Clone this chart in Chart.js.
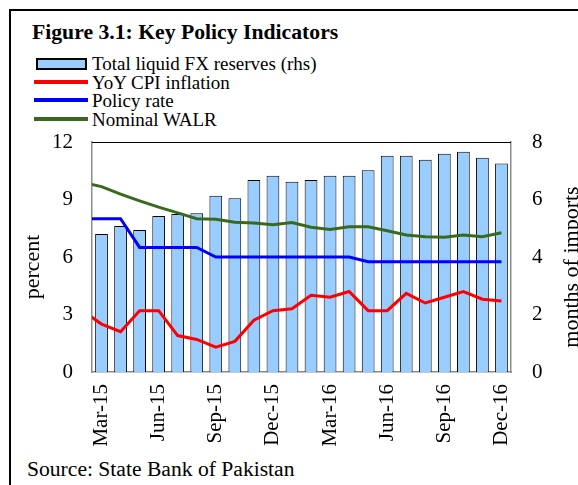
<!DOCTYPE html>
<html>
<head>
<meta charset="utf-8">
<script src="https://cdn.jsdelivr.net/npm/chart.js@4.4.0/dist/chart.umd.min.js"></script>
<style>
html,body{margin:0;padding:0;background:#fff;overflow:hidden;}
body{width:578px;height:485px;position:relative;font-family:"Liberation Serif","Times New Roman",serif;color:#000;}
#frame{position:absolute;left:9px;top:9px;width:640px;height:540px;border:2px solid #000;box-sizing:border-box;}
#title{position:absolute;left:32px;top:20px;font-weight:bold;font-size:21.7px;line-height:24px;white-space:nowrap;}
#legend{position:absolute;left:34px;top:55px;}
.li{position:relative;height:18.7px;font-size:19px;line-height:18.7px;white-space:nowrap;padding-left:58px;}
.sw{position:absolute;box-sizing:border-box;}
#source{position:absolute;left:27px;top:457px;font-size:21.6px;line-height:24px;white-space:nowrap;}
canvas{position:absolute;left:0;top:0;}
</style>
</head>
<body>
<div id="frame"></div>
<div id="title">Figure 3.1: Key Policy Indicators</div>
<div id="legend"></div>
<div id="source">Source: State Bank of Pakistan</div>
<canvas id="c" width="578" height="485"></canvas>
<script>
// Monthly categories (Feb-15 only carries the lines in from the left edge; the axis starts at Mar-15)
const months = ['Feb-15','Mar-15','Apr-15','May-15','Jun-15','Jul-15','Aug-15','Sep-15','Oct-15','Nov-15','Dec-15',
  'Jan-16','Feb-16','Mar-16','Apr-16','May-16','Jun-16','Jul-16','Aug-16','Sep-16','Oct-16','Nov-16','Dec-16'];
const firstShownMonth = 'Mar-15';
const shownTickMonths = ['Mar','Jun','Sep','Dec'];

// Total liquid FX reserves, months of imports (rhs)
const fxReserves = [null, 4.80, 5.08, 4.94, 5.43, 5.50, 5.52, 6.13, 6.04, 6.68, 6.83, 6.62, 6.68, 6.83, 6.83, 7.02, 7.52, 7.52, 7.38, 7.59, 7.66, 7.45, 7.25];
// YoY CPI inflation, percent
const cpiInflation = [3.2, 2.5, 2.1, 3.2, 3.2, 1.9, 1.7, 1.3, 1.6, 2.7, 3.2, 3.3, 4.0, 3.9, 4.2, 3.2, 3.2, 4.1, 3.6, 3.9, 4.2, 3.8, 3.7];
// Policy rate, percent
const policyRate = [8.0, 8.0, 8.0, 6.5, 6.5, 6.5, 6.5, 6.0, 6.0, 6.0, 6.0, 6.0, 6.0, 6.0, 6.0, 5.75, 5.75, 5.75, 5.75, 5.75, 5.75, 5.75, 5.75];
// Nominal WALR, percent
const nominalWalr = [9.9, 9.67, 9.28, 8.93, 8.6, 8.3, 8.0, 7.97, 7.81, 7.77, 7.68, 7.8, 7.55, 7.44, 7.58, 7.58, 7.37, 7.15, 7.06, 7.03, 7.15, 7.06, 7.27];

const leftTicks = {min: 0, max: 12, step: 3};
const rightTicks = {min: 0, max: 8, step: 2};
const leftAxisTitle = 'percent';
const rightAxisTitle = 'months of imports';

const FONT = 'Liberation Serif';
const tickFont = {family: FONT, size: 21};

const extrasPlugin = {
  id: 'extras',
  afterDraw(chart) {
    const {ctx, chartArea} = chart;
    ctx.save();
    // top border of plot area
    ctx.strokeStyle = '#000';
    ctx.lineWidth = 1.2;
    ctx.beginPath();
    ctx.moveTo(chartArea.left, chartArea.top + 0.5);
    ctx.lineTo(chartArea.right, chartArea.top + 0.5);
    ctx.stroke();
    // axis titles, both reading bottom-to-top
    ctx.fillStyle = '#000';
    ctx.font = '22px "' + FONT + '"';
    ctx.textAlign = 'center';
    ctx.textBaseline = 'middle';
    const yc = (chartArea.top + chartArea.bottom) / 2 + 10;
    ctx.save();
    ctx.translate(chartArea.left - 59, yc);
    ctx.rotate(-Math.PI / 2);
    ctx.fillText(leftAxisTitle, 0, 0);
    ctx.restore();
    ctx.save();
    ctx.translate(chartArea.right + 61, yc);
    ctx.rotate(-Math.PI / 2);
    ctx.fillText(rightAxisTitle, 0, 0);
    ctx.restore();
    ctx.restore();
  }
};

const axisBorder = {display: true, color: '#8c8c8c', width: 1.5};

const chart = new Chart(document.getElementById('c'), {
  type: 'bar',
  data: {
    labels: months,
    datasets: [
      {type: 'line', label: 'YoY CPI inflation', data: cpiInflation, borderColor: '#FF0000', backgroundColor: '#FF0000',
        borderWidth: 3, pointRadius: 0, tension: 0, yAxisID: 'y', order: 1},
      {type: 'line', label: 'Policy rate', data: policyRate, borderColor: '#0000FF', backgroundColor: '#0000FF',
        borderWidth: 3, pointRadius: 0, tension: 0, yAxisID: 'y', order: 1},
      {type: 'line', label: 'Nominal WALR', data: nominalWalr, borderColor: '#386A1E', backgroundColor: '#386A1E',
        borderWidth: 3, pointRadius: 0, tension: 0, yAxisID: 'y', order: 1},
      {type: 'bar', label: 'Total liquid FX reserves (rhs)', data: fxReserves, backgroundColor: '#99CCFF', borderColor: '#000000',
        borderWidth: 1, yAxisID: 'y1', order: 2, barPercentage: 0.67, categoryPercentage: 1}
    ]
  },
  options: {
    responsive: false,
    animation: false,
    devicePixelRatio: 1,
    layout: {padding: {left: 10, right: 0, top: 142, bottom: 0}},
    plugins: {legend: {display: false}, tooltip: {enabled: false}},
    scales: {
      x: {
        type: 'category', offset: true, min: firstShownMonth,
        grid: {display: false, drawTicks: false},
        border: axisBorder,
        ticks: {
          autoSkip: false, minRotation: 90, maxRotation: 90, padding: 12, color: '#000', font: tickFont,
          callback: function(value) {
            const l = this.getLabelForValue(value);
            return shownTickMonths.includes(l.slice(0, 3)) ? l : '';
          }
        },
        afterFit: s => { s.height = 113; }
      },
      y: {
        position: 'left', min: leftTicks.min, max: leftTicks.max,
        grid: {display: false, drawTicks: false},
        border: axisBorder,
        ticks: {stepSize: leftTicks.step, padding: 19, color: '#000', font: tickFont},
        afterFit: s => { s.width = 82; }
      },
      y1: {
        position: 'right', min: rightTicks.min, max: rightTicks.max,
        grid: {display: false, drawTicks: false},
        border: axisBorder,
        ticks: {stepSize: rightTicks.step, padding: 21, color: '#000', font: tickFont},
        afterFit: s => { s.width = 67; }
      }
    }
  },
  plugins: [extrasPlugin]
});

// HTML legend built from the chart's datasets (bar first, then lines)
const legendEl = document.getElementById('legend');
const ordered = [chart.data.datasets[3], chart.data.datasets[0], chart.data.datasets[1], chart.data.datasets[2]];
ordered.forEach(ds => {
  const row = document.createElement('div');
  row.className = 'li';
  const sw = document.createElement('span');
  sw.className = 'sw';
  if (ds.type === 'bar') {
    sw.style.left = '2px'; sw.style.top = '3px'; sw.style.width = '51px'; sw.style.height = '12px';
    sw.style.background = ds.backgroundColor; sw.style.border = '2px solid ' + ds.borderColor;
  } else {
    sw.style.left = '0px'; sw.style.top = '6px'; sw.style.width = '54px'; sw.style.height = '4px';
    sw.style.background = ds.borderColor;
  }
  row.appendChild(sw);
  row.appendChild(document.createTextNode(ds.label));
  legendEl.appendChild(row);
});
</script>
</body>
</html>
